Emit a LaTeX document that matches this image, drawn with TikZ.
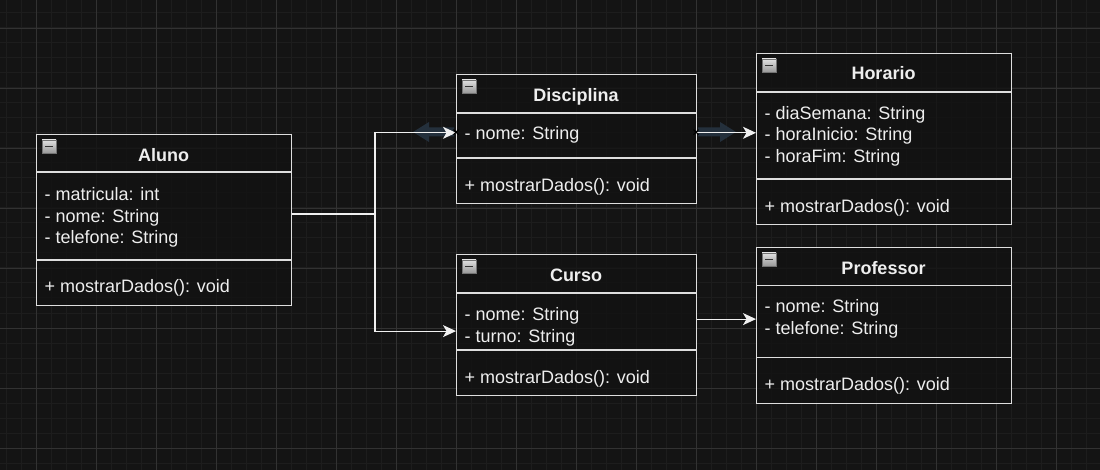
\documentclass[tikz,border=0pt]{standalone}
\usepackage{fontspec}
\setmainfont{Liberation Sans}
\usetikzlibrary{arrows.meta}

\definecolor{bgdark}{RGB}{20,20,20}
\definecolor{gridminor}{RGB}{29,29,29}
\definecolor{gridmajor}{RGB}{50,50,50}
\definecolor{boxline}{RGB}{222,222,222}
\definecolor{txt}{RGB}{238,238,238}
\definecolor{hoverarrow}{RGB}{36,48,60}
\definecolor{pin}{RGB}{58,150,220}

\begin{document}
\begin{tikzpicture}[x=1pt,y=-1pt,
	classbox/.style={draw=boxline,line width=1.2pt,fill=black!93,fill opacity=.8,anchor=north west,inner sep=0pt},
	classline/.style={draw=boxline,line width=1.2pt},
	title/.style={anchor=base,text=txt,inner sep=0pt,font=\fontsize{18pt}{22pt}\selectfont\bfseries},
	member/.style={anchor=base west,text=txt,inner sep=0pt,font=\fontsize{18pt}{22pt}\selectfont},
	conn/.style={draw=white!94!black,line width=1.2pt,-{Stealth[length=13pt,width=12pt,inset=3.5pt]}}]
	\useasboundingbox (0,0) rectangle (1100,470);
	\fill[bgdark] (0,0) rectangle (1100,470);
	% grid
	\foreach \x in {6,21,...,1100}
	\draw[gridminor,line width=1pt] (\x,0) -- (\x,470);
	\foreach \y in {13,28,...,470}
	\draw[gridminor,line width=1pt] (0,\y) -- (1100,\y);
	\foreach \x in {36,96,...,1100}
	\draw[gridmajor,line width=.8pt] (\x,0) -- (\x,470);
	\foreach \y in {28,88,...,470}
	\draw[gridmajor,line width=.8pt] (0,\y) -- (1100,\y);
	% hover arrows
	\fill[hoverarrow] (413,132) -- (429,122) -- (429,127.5) -- (454,127.5) -- (454,136.5) -- (429,136.5) -- (429,142) -- cycle;
	\fill[hoverarrow] (698,127.5) -- (720,127.5) -- (720,122) -- (736,132) -- (720,142) -- (720,136.5) -- (698,136.5) -- cycle;
	% classes
	\node[classbox,minimum width=255pt,minimum height=171pt] (aluno) at (36,134) {};
	\draw[classline] (36,172) -- (291,172) (36,260) -- (291,260);
	\node[title] (aluno-t) at (163.5,161.5) {Aluno};
	\node[member] (aluno-a1) at (44.5,200.5) {- matricula: int};
	\node[member] (aluno-a2) at (44.5,222.5) {- nome: String};
	\node[member] (aluno-a3) at (44.5,244) {- telefone: String};
	\node[member] (aluno-m1) at (44.5,292.5) {+ mostrarDados(): void};

	\node[classbox,minimum width=240pt,minimum height=129pt] (disc) at (456,74) {};
	\draw[classline] (456,113) -- (696,113) (456,158) -- (696,158);
	\node[title] (disc-t) at (576,101.5) {Disciplina};
	\node[member] (disc-a1) at (464.5,139.8) {- nome: String};
	\node[member] (disc-m1) at (464.5,191.5) {+ mostrarDados(): void};

	\node[classbox,minimum width=255pt,minimum height=171pt] (hor) at (756,53) {};
	\draw[classline] (756,92) -- (1011,92) (756,179) -- (1011,179);
	\node[title] (hor-t) at (883.5,80) {Horario};
	\node[member] (hor-a1) at (764.5,119.5) {- diaSemana: String};
	\node[member] (hor-a2) at (764.5,140.5) {- horaInicio: String};
	\node[member] (hor-a3) at (764.5,162.5) {- horaFim: String};
	\node[member] (hor-m1) at (764.5,212.5) {+ mostrarDados(): void};

	\node[classbox,minimum width=240pt,minimum height=141pt] (curso) at (456,254) {};
	\draw[classline] (456,293) -- (696,293) (456,350) -- (696,350);
	\node[title] (curso-t) at (576,281.5) {Curso};
	\node[member] (curso-a1) at (464.5,320.5) {- nome: String};
	\node[member] (curso-a2) at (464.5,342.5) {- turno: String};
	\node[member] (curso-m1) at (464.5,383.5) {+ mostrarDados(): void};

	\node[classbox,minimum width=255pt,minimum height=156pt] (prof) at (756,247) {};
	\draw[classline] (756,285.5) -- (1011,285.5) (756,357.5) -- (1011,357.5);
	\node[title] (prof-t) at (883.5,274.8) {Professor};
	\node[member] (prof-a1) at (764.5,312.5) {- nome: String};
	\node[member] (prof-a2) at (764.5,334.5) {- telefone: String};
	\node[member] (prof-m1) at (764.5,390.5) {+ mostrarDados(): void};

	% collapse icons
	\foreach \bx/\by in {36/134,456/74,756/53,456/254,756/247}{
		\draw[draw=black!55,top color=black!12,bottom color=black!40,line width=.8pt] (\bx+6,\by+6) rectangle ++(14,13);
		\draw[black!80,line width=1.6pt] (\bx+9,\by+12.5) -- ++(8,0);
	}
	% connectors
	\draw[conn] ([yshift=6pt]aluno.east) -- ++(82.7,0) |- ([yshift=6.3pt]disc.west);
	\draw[conn] ([yshift=6pt]aluno.east) -- ++(82.7,0) |- ([yshift=-6pt]curso.west);
	\draw[conn] ([yshift=6.3pt]disc.east) -- ([yshift=6.3pt]hor.west);
	\draw[conn] ([yshift=6pt]curso.east) -- ([yshift=6.5pt]prof.west);
	\foreach \px in {456,696}
	\draw[pin,line width=1pt] (\px-2.5,129.7) -- (\px+2.5,134.7) (\px-2.5,134.7) -- (\px+2.5,129.7);
\end{tikzpicture}
\end{document}
